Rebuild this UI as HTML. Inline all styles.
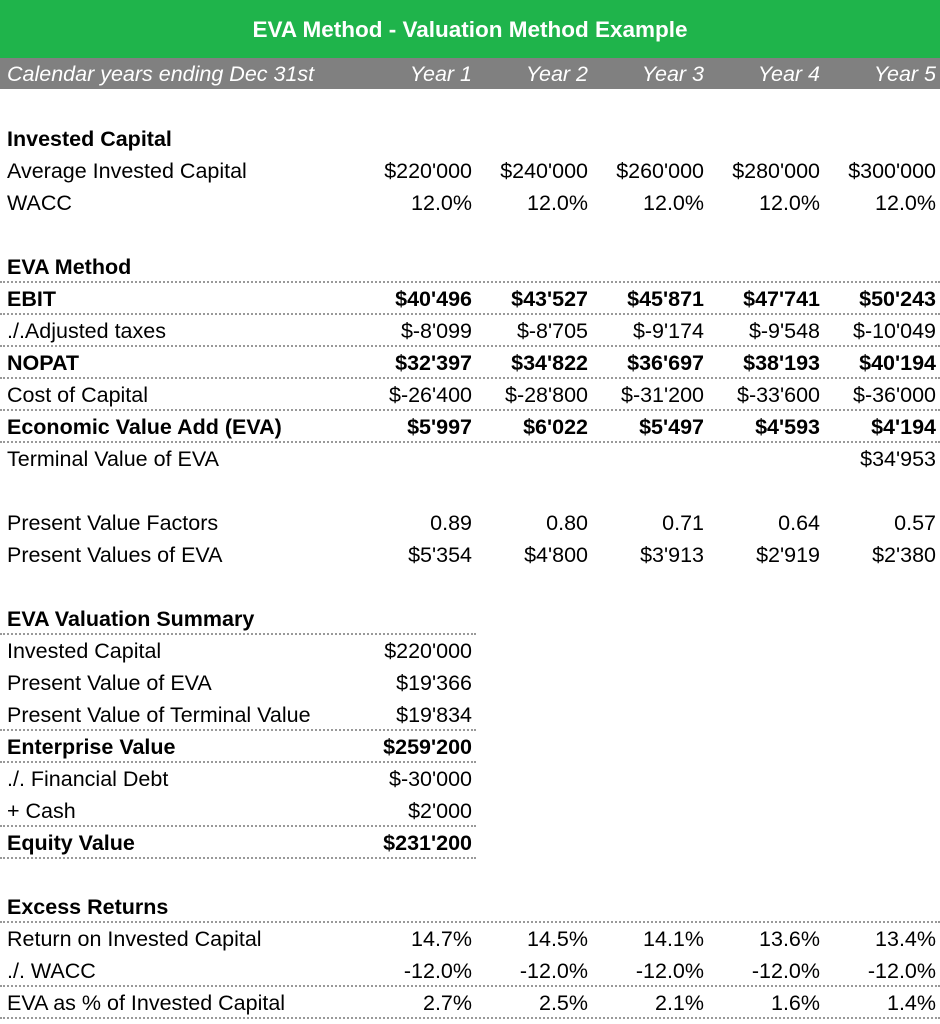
<!DOCTYPE html>
<html><head><meta charset="utf-8">
<style>
body{margin:0;width:940px;height:1024px;background:#fff;overflow:hidden;font-family:"Liberation Sans",sans-serif;color:#000}
#title{position:absolute;left:0;top:0;width:940px;height:58px;background:#1fb44b;color:#fff;font-weight:bold;font-size:22.5px;line-height:60px;text-align:center}
#hdr{position:absolute;left:0;top:58px;width:940px;height:31px;background:#808080;color:#fff;font-style:italic;font-size:21.5px;line-height:32px}
.row{position:absolute;left:0;height:32px;width:940px;font-size:21.5px;line-height:35px}
.lbl{position:absolute;left:7px;white-space:nowrap}
.row.b{font-weight:bold}
.row.b .lbl{font-size:21.5px}
.v{position:absolute;text-align:right;width:130px;white-space:nowrap}
.bl{position:absolute;left:0;height:0;border-top:2px dotted #999}
</style></head><body>
<div id="title">EVA Method - Valuation Method Example</div>
<div id="hdr">
<span class="lbl" style="left:7px">Calendar years ending Dec 31st</span>
<span class="v" style="left:342px">Year 1</span>
<span class="v" style="left:458px">Year 2</span>
<span class="v" style="left:574px">Year 3</span>
<span class="v" style="left:690px">Year 4</span>
<span class="v" style="left:806px">Year 5</span>
</div>
<div id="tbl"></div>
<script>
const rowLabels=["Invested Capital","Average Invested Capital","WACC","","EVA Method","EBIT","./.Adjusted taxes","NOPAT","Cost of Capital","Economic Value Add (EVA)","Terminal Value of EVA","","Present Value Factors","Present Values of EVA","","EVA Valuation Summary","Invested Capital","Present Value of EVA","Present Value of Terminal Value","Enterprise Value","./. Financial Debt","+ Cash","Equity Value","","Excess Returns","Return on Invested Capital","./. WACC","EVA as % of Invested Capital"];
const rowBold=[1,0,0,0,1,1,0,1,0,1,0,0,0,0,0,1,0,0,0,1,0,0,1,0,1,0,0,0];
const rowValues=[
[],["$220'000","$240'000","$260'000","$280'000","$300'000"],["12.0%","12.0%","12.0%","12.0%","12.0%"],[],[],
["$40'496","$43'527","$45'871","$47'741","$50'243"],["$-8'099","$-8'705","$-9'174","$-9'548","$-10'049"],
["$32'397","$34'822","$36'697","$38'193","$40'194"],["$-26'400","$-28'800","$-31'200","$-33'600","$-36'000"],
["$5'997","$6'022","$5'497","$4'593","$4'194"],["","","","","$34'953"],[],
["0.89","0.80","0.71","0.64","0.57"],["$5'354","$4'800","$3'913","$2'919","$2'380"],[],[],
["$220'000"],["$19'366"],["$19'834"],["$259'200"],["$-30'000"],["$2'000"],["$231'200"],[],[],
["14.7%","14.5%","14.1%","13.6%","13.4%"],["-12.0%","-12.0%","-12.0%","-12.0%","-12.0%"],["2.7%","2.5%","2.1%","1.6%","1.4%"]];
// rows after which a dotted line is drawn, and its width
const lineAfter=[4,5,6,7,8,9,15,18,19,21,22,24,26,27];
const lineWide=[1,1,1,1,1,1,0,0,0,0,0,1,1,1];
const tbl=document.getElementById('tbl');
const top0=122,pitch=32,colRight=[472,588,704,820,936];
rowLabels.forEach((t,i)=>{
  const r=document.createElement('div');
  r.className='row'+(rowBold[i]?' b':'');
  r.style.top=(top0+i*pitch)+'px';
  
  
  if(t){const l=document.createElement('span');l.className='lbl';l.textContent=t;
  
  
  r.appendChild(l);}
  rowValues[i].forEach((v,j)=>{
    const c=document.createElement('span');c.className='v';c.textContent=v;
    c.style.left=(colRight[j]-130)+'px';
    
    
    r.appendChild(c);
  });
  tbl.appendChild(r);
});
lineAfter.forEach((k,i)=>{
  const d=document.createElement('div');d.className='bl';
  d.style.top=(top0+(k+1)*pitch-1)+'px';
  d.style.width=(lineWide[i]?940:476)+'px';
  
  
  tbl.appendChild(d);
});
</script>
</body></html>
